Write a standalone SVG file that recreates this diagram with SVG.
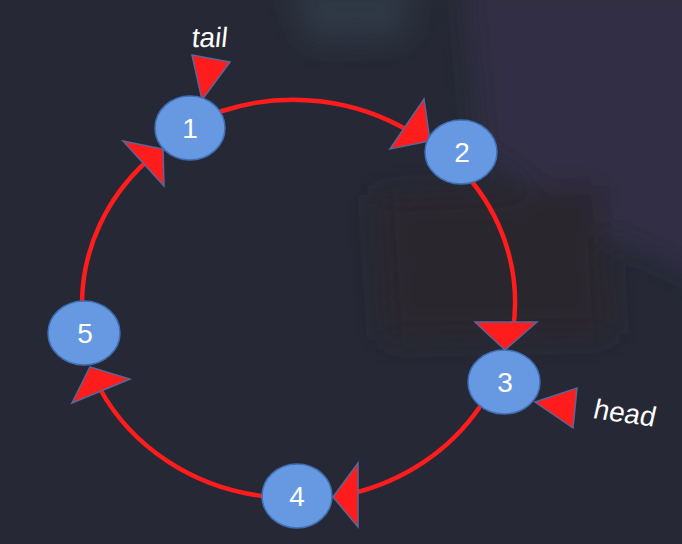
<svg xmlns="http://www.w3.org/2000/svg" width="682" height="544" viewBox="0 0 682 544">
  <defs>
    <filter id="blur" x="-50%" y="-50%" width="200%" height="200%">
      <feGaussianBlur stdDeviation="14"/>
    </filter>
    <style>
      .ring { fill: none; stroke: #ff1c1c; stroke-width: 4.5; stroke-linecap: round; }
      .head { fill: #ff1c1c; stroke: #5a6796; stroke-width: 1.5; stroke-linejoin: miter; }
      .node ellipse { fill: #6699e1; stroke: #3f6fb5; stroke-width: 1.5; }
      .node text { fill: #ffffff; font-family: "Liberation Sans", Arial, sans-serif; font-size: 28px; text-anchor: middle; }
      .lbl { fill: #ffffff; font-family: "Liberation Sans", Arial, sans-serif; font-size: 28px; }
    </style>
  </defs>

  <!-- background -->
  <rect x="0" y="0" width="682" height="544" fill="#262935"/>
  <g filter="url(#blur)">
    <path d="M285 -20 L415 -20 L405 38 L310 42 Z" fill="#2d3944"/>
    <path d="M465 -20 L720 -20 L720 285 L610 235 L480 150 Z" fill="#302e44"/>
    <path d="M375 195 L600 185 L612 335 L385 340 Z" fill="#2c282f"/>
  </g>

  <!-- connectors -->
  <g id="connectors">
    <path class="ring" d="M82 301 A216 201 0 0 1 147 161"/>
    <path class="ring" d="M222 111 A216 201 0 0 1 412 133"/>
    <path class="ring" d="M473 183 A216 201 0 0 1 513 330"/>
    <path class="ring" d="M479 408 A216 201 0 0 1 350 494"/>
    <path class="ring" d="M262 496 A216 201 0 0 1 100 389"/>

    <polygon class="head" points="123,141 163,149 164,186"/>
    <polygon class="head" points="424,99 430,141 390,149"/>
    <polygon class="head" points="475,322 537,322 505,350"/>
    <polygon class="head" points="358,463 358,527 333,497"/>
    <polygon class="head" points="90,367 130,379 72,403"/>

    <polygon class="head" points="192,55 230,62 202,100"/>
    <polygon class="head" points="577,388 573,428 535,402"/>
  </g>

  <!-- nodes -->
  <g id="node1" class="node">
    <ellipse cx="190" cy="128" rx="35" ry="32"/>
    <text x="190" y="138">1</text>
  </g>
  <g id="node2" class="node">
    <ellipse cx="461" cy="152" rx="36" ry="32"/>
    <text x="462" y="162">2</text>
  </g>
  <g id="node3" class="node">
    <ellipse cx="504" cy="382" rx="36" ry="32"/>
    <text x="505" y="392">3</text>
  </g>
  <g id="node4" class="node">
    <ellipse cx="297" cy="496" rx="35" ry="32"/>
    <text x="297" y="506">4</text>
  </g>
  <g id="node5" class="node">
    <ellipse cx="84" cy="333" rx="36" ry="32"/>
    <text x="85" y="343">5</text>
  </g>

  <!-- labels -->
  <text class="lbl" x="0" y="0" transform="translate(191 47) skewX(-6)">tail</text>
  <text class="lbl" x="0" y="0" transform="translate(592 418) rotate(8) skewX(-5)">head</text>
</svg>
